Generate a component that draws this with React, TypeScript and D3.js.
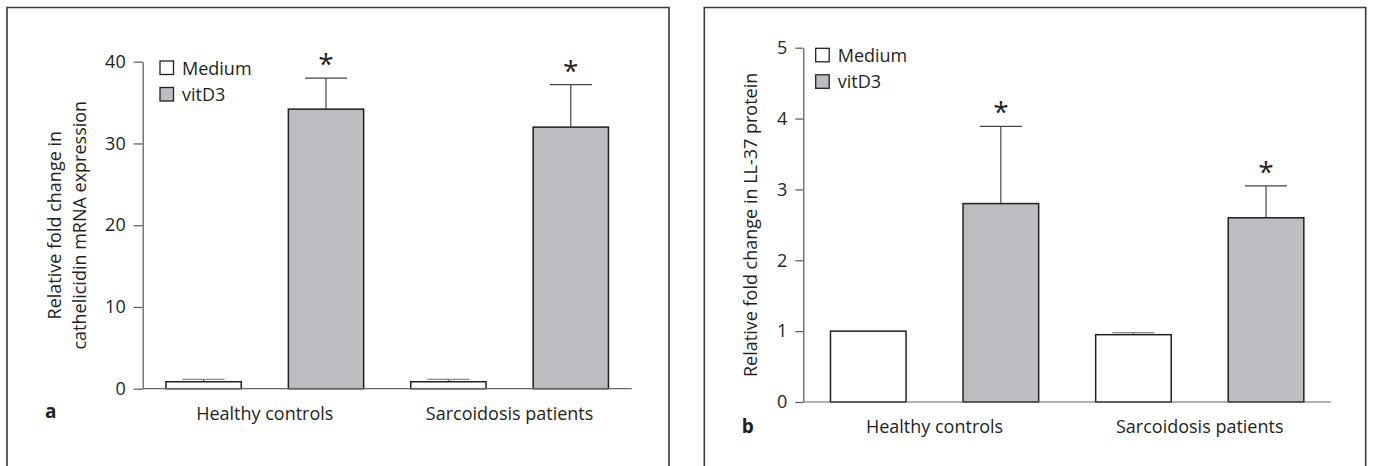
import React, { useEffect, useRef } from "react";
import * as d3 from "d3";

// groups and treatments
const groups = ["Healthy controls", "Sarcoidosis patients"];
const treatments = ["Medium", "vitD3"];

// panel a: cathelicidin mRNA (mean, SEM) per group, per treatment
const mrnaMean = [
  [0.85, 34.2],
  [0.85, 32.0],
];
const mrnaSem = [
  [0.3, 3.8],
  [0.3, 5.2],
];
const mrnaTicks = [0, 10, 20, 30, 40];

// panel b: LL-37 protein
const proteinMean = [
  [1.0, 2.8],
  [0.95, 2.6],
];
const proteinSem = [
  [0, 1.09],
  [0.03, 0.45],
];
const proteinTicks = [0, 1, 2, 3, 4, 5];

const FONT = "'Open Sans', 'Noto Sans', sans-serif";
const fills: Record<string, string> = { Medium: "#ffffff", vitD3: "#bbbdc1" };

const panels = [
  {
    letter: "a",
    mean: mrnaMean,
    sem: mrnaSem,
    ticks: mrnaTicks,
    yLabel: ["Relative fold change in", "cathelicidin mRNA expression"],
    box: { x0: 7, x1: 669 },
    plot: { left: 142.7, right: 631.7, top: 61.7, bottom: 388.7 },
    tickSize: 9,
    padInner: 0.385,
    padOuter: 0.19,
    labelX: [61, 86],
    letterPos: [45, 418],
    legend: { x: 160, y: 61 },
  },
  {
    letter: "b",
    mean: proteinMean,
    sem: proteinSem,
    ticks: proteinTicks,
    yLabel: ["Relative fold change in LL-37 protein"],
    box: { x0: 704.3, x1: 1365.7 },
    plot: { left: 803.3, right: 1331, top: 47.7, bottom: 402 },
    tickSize: 8,
    padInner: 0.43,
    padOuter: 0.205,
    labelX: [757],
    letterPos: [741.7, 432.7],
    legend: { x: 815.7, y: 48.3 },
  },
];

function App() {
  const ref = useRef<SVGSVGElement>(null);

  useEffect(() => {
    const svg = d3.select(ref.current);
    svg.selectAll("*").remove();

    panels.forEach((p) => {
      const g = svg.append("g");

      // frame (bottom edge cropped off)
      g.append("path")
        .attr("d", `M${p.box.x0},480V7.5H${p.box.x1}V480`)
        .attr("fill", "none")
        .attr("stroke", "#3a3a3a")
        .attr("stroke-width", 1.6);

      const y = d3
        .scaleLinear()
        .domain([0, d3.max(p.ticks) as number])
        .range([p.plot.bottom, p.plot.top]);

      // flat band scale over all four bars
      const keys: string[] = [];
      groups.forEach((gr) => treatments.forEach((t) => keys.push(gr + "|" + t)));
      const x = d3
        .scaleBand()
        .domain(keys)
        .range([p.plot.left, p.plot.right])
        .paddingInner(p.padInner)
        .paddingOuter(p.padOuter);

      // y axis
      const yAxis = g
        .append("g")
        .attr("transform", `translate(${p.plot.left},0)`)
        .call(
          d3
            .axisLeft(y)
            .tickValues(p.ticks)
            .tickFormat(d3.format("d"))
            .tickSize(p.tickSize)
            .tickPadding(8)
            .tickSizeOuter(0)
        );
      yAxis.select(".domain").attr("stroke", "#555").attr("stroke-width", 1.2);
      yAxis.selectAll(".tick line").attr("stroke", "#555").attr("stroke-width", 1.2);
      yAxis
        .selectAll(".tick text")
        .attr("font-family", FONT)
        .attr("font-size", 18)
        .attr("fill", "#231f20");

      // bars
      groups.forEach((gr, gi) => {
        treatments.forEach((t, ti) => {
          const v = p.mean[gi][ti];
          const s = p.sem[gi][ti];
          const bx = x(gr + "|" + t) as number;
          const bw = x.bandwidth();
          const cx = bx + bw / 2;
          if (s > 0) {
            g.append("line")
              .attr("x1", cx)
              .attr("x2", cx)
              .attr("y1", y(v))
              .attr("y2", y(v + s))
              .attr("stroke", "#444")
              .attr("stroke-width", 1.2);
            g.append("line")
              .attr("x1", cx - 21)
              .attr("x2", cx + 21)
              .attr("y1", y(v + s))
              .attr("y2", y(v + s))
              .attr("stroke", t === "Medium" ? "#888" : "#444")
              .attr("stroke-width", 1.2);
          }
          g.append("rect")
            .attr("x", bx)
            .attr("y", y(v))
            .attr("width", bw)
            .attr("height", y(0) - y(v))
            .attr("fill", fills[t])
            .attr("stroke", "#231f20")
            .attr("stroke-width", 1.5);
          if (t === "vitD3") {
            g.append("text")
              .attr("x", cx)
              .attr("y", y(v + s) - 4)
              .attr("text-anchor", "middle")
              .attr("font-family", FONT)
              .attr("font-size", 28)
              .attr("fill", "#231f20")
              .text("*");
          }
        });
        // category label
        const gx =
          ((x(gr + "|" + treatments[0]) as number) +
            (x(gr + "|" + treatments[1]) as number) +
            x.bandwidth()) /
          2;
        g.append("text")
          .attr("x", gx)
          .attr("y", p.plot.bottom + 31)
          .attr("text-anchor", "middle")
          .attr("font-family", FONT)
          .attr("font-size", 18)
          .attr("fill", "#231f20")
          .text(gr);
      });

      // x axis line
      g.append("line")
        .attr("x1", p.plot.left)
        .attr("x2", p.plot.right)
        .attr("y1", p.plot.bottom)
        .attr("y2", p.plot.bottom)
        .attr("stroke", "#666")
        .attr("stroke-width", 1.2);

      // y label
      const yc = (p.plot.top + p.plot.bottom) / 2;
      p.yLabel.forEach((line, i) => {
        g.append("text")
          .attr("transform", `translate(${p.labelX[i]},${yc}) rotate(-90)`)
          .attr("text-anchor", "middle")
          .attr("font-family", FONT)
          .attr("font-size", 18)
          .attr("fill", "#231f20")
          .text(line);
      });

      // legend
      treatments.forEach((t, i) => {
        const ly = p.legend.y + i * 26.5;
        g.append("rect")
          .attr("x", p.legend.x)
          .attr("y", ly)
          .attr("width", 13.5)
          .attr("height", 13.5)
          .attr("fill", fills[t])
          .attr("stroke", "#231f20")
          .attr("stroke-width", 1.3);
        g.append("text")
          .attr("x", p.legend.x + 22)
          .attr("y", ly + 13.5)
          .attr("font-family", FONT)
          .attr("font-size", 18)
          .attr("fill", "#231f20")
          .text(t);
      });

      // panel letter
      g.append("text")
        .attr("x", p.letterPos[0])
        .attr("y", p.letterPos[1])
        .attr("font-family", FONT)
        .attr("font-size", 19)
        .attr("font-weight", "bold")
        .attr("fill", "#231f20")
        .text(p.letter);
    });
  }, []);

  return (
    <svg
      ref={ref}
      width={1373}
      height={466}
      style={{ position: "absolute", left: 0, top: 0, background: "#fff" }}
    />
  );
}

export default App;
